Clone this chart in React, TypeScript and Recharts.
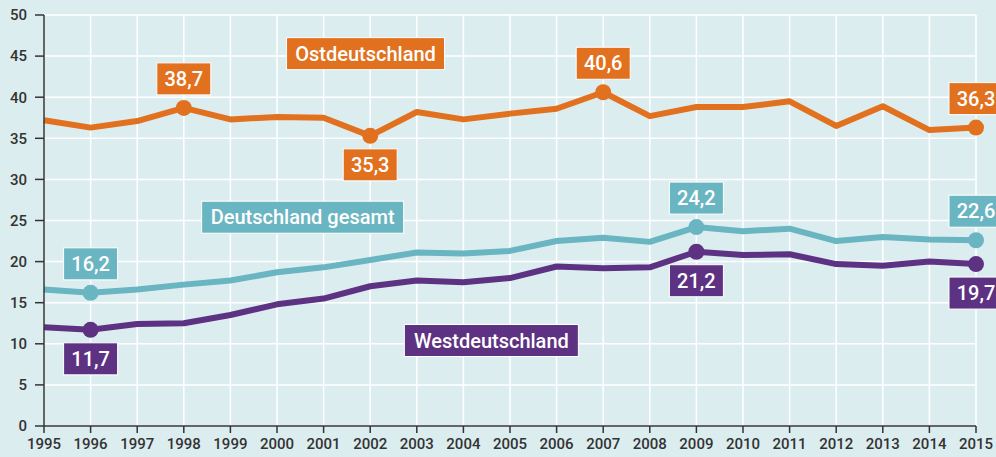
import { LineChart, Line, XAxis, YAxis, CartesianGrid, ReferenceDot } from 'recharts';

const years = [
  1995, 1996, 1997, 1998, 1999, 2000, 2001, 2002, 2003, 2004, 2005,
  2006, 2007, 2008, 2009, 2010, 2011, 2012, 2013, 2014, 2015,
];
const ost = [
  37.2, 36.3, 37.1, 38.7, 37.3, 37.6, 37.5, 35.3, 38.2, 37.3, 38.0,
  38.6, 40.6, 37.7, 38.8, 38.8, 39.5, 36.5, 38.9, 36.0, 36.3,
];
const gesamt = [
  16.6, 16.2, 16.6, 17.2, 17.7, 18.7, 19.3, 20.2, 21.1, 21.0, 21.3,
  22.5, 22.9, 22.4, 24.2, 23.7, 24.0, 22.5, 23.0, 22.7, 22.6,
];
const west = [
  12.0, 11.7, 12.4, 12.5, 13.5, 14.8, 15.5, 17.0, 17.7, 17.5, 18.0,
  19.4, 19.2, 19.3, 21.2, 20.8, 20.9, 19.7, 19.5, 20.0, 19.7,
];
const yTicks = [0, 5, 10, 15, 20, 25, 30, 35, 40, 45, 50];

// highlighted years per series and whether the value box sits above or below
const ostMarks: Record<number, 'up' | 'down'> = { 1998: 'up', 2002: 'down', 2007: 'up', 2015: 'up' };
const gesamtMarks: Record<number, 'up' | 'down'> = { 1996: 'up', 2009: 'up', 2015: 'up' };
const westMarks: Record<number, 'up' | 'down'> = { 1996: 'down', 2009: 'down', 2015: 'down' };

const seriesNames = [
  { name: 'Ostdeutschland', year: 2001.9, value: 45.3, color: '#e1711f', width: 158 },
  { name: 'Deutschland gesamt', year: 2000.55, value: 25.4, color: '#6ab5c2', width: 202 },
  { name: 'Westdeutschland', year: 2004.6, value: 10.4, color: '#5e3282', width: 174 },
];

const data = years.map((year, i) => ({ year, ost: ost[i], gesamt: gesamt[i], west: west[i] }));

const FONT = 'Roboto, "DejaVu Sans", sans-serif';
const fmt = (v: number) => v.toFixed(1).replace('.', ',');

function makeDot(color: string, marks: Record<number, 'up' | 'down'>) {
  return (props: any) => {
    const { cx, cy, payload, value, index } = props;
    const pos = marks[payload.year];
    if (!pos) return <g key={`d-${color}-${index}`} />;
    const bw = 54;
    const bh = 32;
    const boxCy = pos === 'up' ? cy - 29 : cy + 29;
    return (
      <g key={`d-${color}-${index}`}>
        <circle cx={cx} cy={cy} r={8} fill={color} />
        <rect x={cx - bw / 2} y={boxCy - bh / 2} width={bw} height={bh} fill={color} stroke="#ffffff" strokeWidth={1} />
        <text
          x={cx}
          y={boxCy + 7}
          textAnchor="middle"
          fill="#ffffff"
          fontSize={20}
          fontWeight={500}
          fontFamily={FONT}
        >
          {fmt(value)}
        </text>
      </g>
    );
  };
}

function NameBox(props: any) {
  const { cx, cy, label, color, width } = props;
  const h = 32;
  return (
    <g>
      <rect x={cx - width / 2} y={cy - h / 2} width={width} height={h} fill={color} stroke="#ffffff" strokeWidth={1} />
      <text x={cx} y={cy + 7} textAnchor="middle" fill="#ffffff" fontSize={20} fontWeight={500} fontFamily={FONT}>
        {label}
      </text>
    </g>
  );
}

export default function App() {
  return (
    <div style={{ position: 'absolute', left: 0, top: 0, width: 996, height: 457, background: '#dcedf0' }}>
      <LineChart width={996} height={457} data={data} margin={{ top: 15, right: 20, bottom: 0, left: 0 }}>
        <CartesianGrid stroke="#ffffff" strokeWidth={1.5} verticalValues={years} />
        <XAxis
          dataKey="year"
          type="number"
          domain={[1995, 2015]}
          ticks={years}
          interval={0}
          height={31}
          axisLine={{ stroke: '#333333', strokeWidth: 1.5 }}
          tickLine={{ stroke: '#333333', strokeWidth: 1.5 }}
          tickSize={7}
          tickMargin={5}
          tick={{ fontSize: 15, fontWeight: 500, fill: '#333333', fontFamily: FONT }}
        />
        <YAxis
          domain={[0, 50]}
          ticks={yTicks}
          width={44}
          interval={0}
          axisLine={{ stroke: '#333333', strokeWidth: 1.5 }}
          tickLine={{ stroke: '#333333', strokeWidth: 1.5 }}
          tickSize={9}
          tickMargin={8}
          tick={{ fontSize: 15, fontWeight: 500, fill: '#333333', fontFamily: FONT }}
        />
        <Line
          dataKey="ost"
          type="linear"
          stroke="#e1711f"
          strokeWidth={6}
          strokeLinejoin="round"
          dot={makeDot('#e1711f', ostMarks)}
          activeDot={false}
          isAnimationActive={false}
        />
        <Line
          dataKey="gesamt"
          type="linear"
          stroke="#6ab5c2"
          strokeWidth={6}
          strokeLinejoin="round"
          dot={makeDot('#6ab5c2', gesamtMarks)}
          activeDot={false}
          isAnimationActive={false}
        />
        <Line
          dataKey="west"
          type="linear"
          stroke="#5e3282"
          strokeWidth={6}
          strokeLinejoin="round"
          dot={makeDot('#5e3282', westMarks)}
          activeDot={false}
          isAnimationActive={false}
        />
        {seriesNames.map((s) => (
          <ReferenceDot
            key={s.name}
            x={s.year}
            y={s.value}
            r={0}
            ifOverflow="visible"
            shape={(p: any) => <NameBox {...p} label={s.name} color={s.color} width={s.width} />}
          />
        ))}
      </LineChart>
    </div>
  );
}
